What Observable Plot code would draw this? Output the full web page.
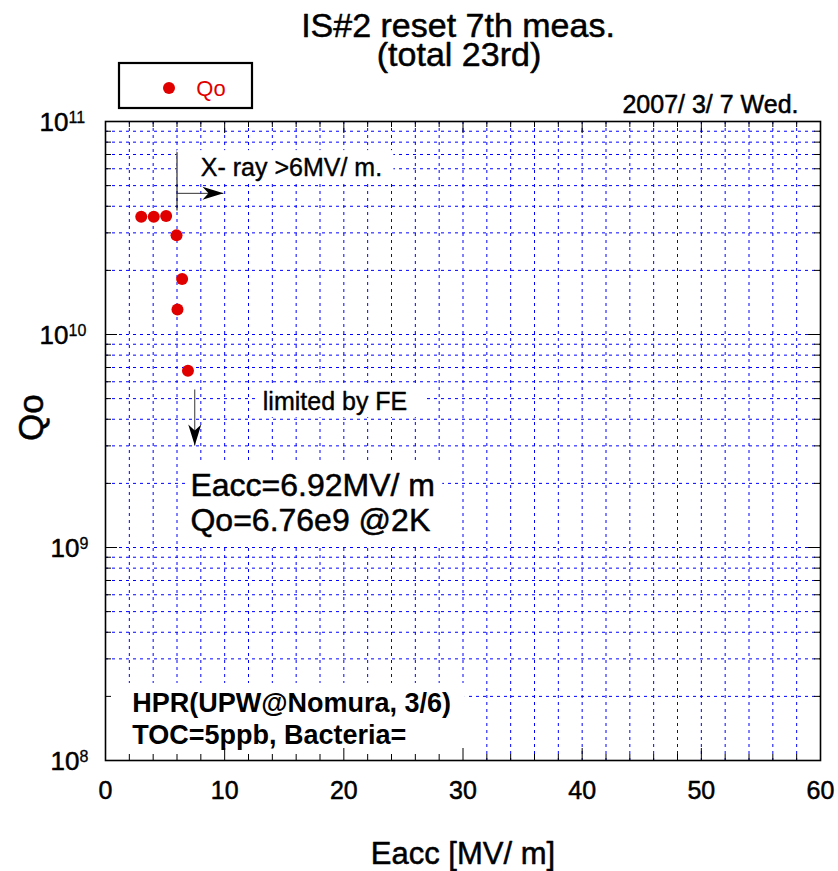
<!DOCTYPE html>
<html>
<head>
<meta charset="utf-8">
<script src="https://cdn.jsdelivr.net/npm/d3@7"></script>
<script src="https://cdn.jsdelivr.net/npm/@observablehq/plot@0.6"></script>
<style>
  html, body { margin: 0; padding: 0; background: white; }
  #chart { width: 838px; height: 871px; }
</style>
</head>
<body>
<div id="chart"></div>
<script>
// ---------------- data ----------------
const eacc = [3.0, 4.05, 5.09, 5.96, 6.43, 6.04, 6.92];          // MV/m
const qo   = [3.57e10, 3.57e10, 3.6e10, 2.92e10, 1.82e10, 1.31e10, 6.76e9];

const xTickValues = [0, 10, 20, 30, 40, 50, 60];
const xTickLabels = ["0", "10", "20", "30", "40", "50", "60"];
const yDecades = [1e8, 1e9, 1e10, 1e11];
const yExponents = ["8", "9", "10", "11"];

const titleLines = ["IS#2 reset 7th meas.", "(total 23rd)"];
const dateLabel = "2007/ 3/ 7 Wed.";
const xLabel = "Eacc [MV/ m]";
const yLabel = "Qo";
const seriesName = "Qo";

// annotations (data coordinates)
const xrayText = { x: 8.0, y: 5.57e10, text: "X- ray >6MV/ m." };
const feText = { x: 13.2, y: 4.4e9, text: "limited by FE" };
const resultLines = [
  { x: 7.13, y: 1.75e9, text: "Eacc=6.92MV/ m" },
  { x: 7.13, y: 1.2e9, text: "Qo=6.76e9 @2K" }
];
const hprLines = [
  { x: 2.24, y: 1.69e8, text: "HPR(UPW@Nomura, 3/6)" },
  { x: 2.24, y: 1.2e8, text: "TOC=5ppb, Bacteria=" }
];
const textBoxes = [
  { x1: 6.0, x2: 24.2, y1: 5.18e10, y2: 7.3e10 },
  { x1: 12.84, x2: 26.8, y1: 4.07e9, y2: 5.77e9 },
  { x1: 6.88, x2: 28.3, y1: 1.02e9, y2: 2.48e9 },
  { x1: 0, x2: 30.2, y1: 1e8, y2: 2.3e8 }
];
const xrayLine = { x1: 6.0, y1: 7.18e10, x2: 6.0, y2: 3.82e10 };
const xrayArrow = { x1: 6.0, y1: 4.6e10, x2: 9.9, y2: 4.6e10 };
const feArrow = { x1: 7.49, y1: 5.52e9, x2: 7.49, y2: 3.01e9 };

// ---------------- derived helpers ----------------
const points = eacc.map((x, i) => ({ x, y: qo[i] }));
const xGrid = d3.range(2, 60, 2);
const xMinorTicks = d3.range(2, 60, 2).filter(v => v % 10 !== 0);
const xMajorTicks = [10, 20, 30, 40, 50];
const yMinor = [];
for (const dec of [1e8, 1e9, 1e10]) for (let m = 2; m <= 9; m++) yMinor.push(m * dec);
const yGrid = yMinor.concat([1e9, 1e10]);
const yMajorTicks = [1e9, 1e10];
const yLab = yDecades.map((v, i) => ({ y: v, e: yExponents[i] }));

const W = 838, H = 871;
const mL = 105, mR = 18, mT = 121, mB = 111;
const plotW = W - mL - mR, plotH = H - mT - mB;

const FONT = "'Liberation Sans', Arial, Helvetica, sans-serif";
const RED = "#e00000";
const BLUE = "#0000ff";
const thick = { fill: "black", stroke: "black", strokeWidth: 0.5 };

const arrowHead = {
  draw(ctx) {
    ctx.moveTo(0, 0);
    ctx.lineTo(-21, -6.5);
    ctx.lineTo(-15, 0);
    ctx.lineTo(-21, 6.5);
    ctx.closePath();
  }
};

const legendMark = () => {
  const g = d3.create("svg:g");
  g.append("rect").attr("x", 119).attr("y", 63).attr("width", 133).attr("height", 45)
    .attr("fill", "white").attr("stroke", "black").attr("stroke-width", 2.2);
  g.append("circle").attr("cx", 169).attr("cy", 88).attr("r", 6).attr("fill", RED);
  g.append("text").attr("x", 211).attr("y", 96).attr("fill", RED)
    .attr("font-size", 22).attr("font-family", FONT).text(seriesName);
  return g.node();
};

const chart = Plot.plot({
  width: W,
  height: H,
  marginLeft: mL,
  marginRight: mR,
  marginTop: mT,
  marginBottom: mB,
  style: { fontFamily: FONT, background: "white", overflow: "visible" },
  x: { domain: [0, 60], axis: null },
  y: { type: "log", domain: [1e8, 1e11], axis: null },
  marks: [
    // grid
    Plot.ruleX(xGrid, { stroke: BLUE, strokeWidth: 1, strokeDasharray: "3,4" }),
    Plot.ruleY(yGrid, { stroke: BLUE, strokeWidth: 1, strokeDasharray: "3,4" }),
    // white text backgrounds
    Plot.rect(textBoxes, { x1: "x1", x2: "x2", y1: "y1", y2: "y2", fill: "white" }),
    // inward ticks: bottom / top
    Plot.ruleX(xMinorTicks, { stroke: "black", strokeWidth: 1, insetTop: plotH - 6 }),
    Plot.ruleX(xMajorTicks, { stroke: "black", strokeWidth: 1, insetTop: plotH - 12 }),
    Plot.ruleX(xMinorTicks, { stroke: "black", strokeWidth: 1, insetBottom: plotH - 6 }),
    Plot.ruleX(xMajorTicks, { stroke: "black", strokeWidth: 1, insetBottom: plotH - 12 }),
    // inward ticks: left / right
    Plot.ruleY(yMinor, { stroke: "black", strokeWidth: 1, insetRight: plotW - 6 }),
    Plot.ruleY(yMajorTicks, { stroke: "black", strokeWidth: 1, insetRight: plotW - 12 }),
    Plot.ruleY(yMinor, { stroke: "black", strokeWidth: 1, insetLeft: plotW - 6 }),
    Plot.ruleY(yMajorTicks, { stroke: "black", strokeWidth: 1, insetLeft: plotW - 12 }),
    Plot.frame({ stroke: "black", strokeWidth: 1.6 }),
    // x tick labels
    Plot.text(xTickValues, {
      x: d => d, text: (d, i) => xTickLabels[i], frameAnchor: "bottom",
      dy: 38, lineAnchor: "bottom", fontSize: 25, ...thick
    }),
    // y tick labels: 10^n
    Plot.text(yLab.filter(d => d.e.length === 2), {
      y: "y", text: () => "10", frameAnchor: "left", textAnchor: "end",
      dx: -37, dy: 9, lineAnchor: "bottom", fontSize: 26, ...thick
    }),
    Plot.text(yLab.filter(d => d.e.length === 2), {
      y: "y", text: "e", frameAnchor: "left", textAnchor: "start",
      dx: -37, dy: 1.5, lineAnchor: "bottom", fontSize: 16, ...thick, strokeWidth: 0.3
    }),
    Plot.text(yLab.filter(d => d.e.length === 1), {
      y: "y", text: () => "10", frameAnchor: "left", textAnchor: "end",
      dx: -26, dy: 9, lineAnchor: "bottom", fontSize: 26, ...thick
    }),
    Plot.text(yLab.filter(d => d.e.length === 1), {
      y: "y", text: "e", frameAnchor: "left", textAnchor: "start",
      dx: -26, dy: 1.5, lineAnchor: "bottom", fontSize: 16, ...thick, strokeWidth: 0.3
    }),
    // axis titles
    Plot.text([xLabel], {
      frameAnchor: "bottom", dy: 103, lineAnchor: "bottom", fontSize: 31, ...thick
    }),
    Plot.text([yLabel], {
      frameAnchor: "left", dx: -63, rotate: -90, lineAnchor: "bottom",
      fontSize: 35, ...thick
    }),
    // title & date
    Plot.text([titleLines[0]], {
      frameAnchor: "top", dx: -5, dy: 36 - mT, lineAnchor: "bottom", fontSize: 34, ...thick
    }),
    Plot.text([titleLines[1]], {
      frameAnchor: "top", dx: -4, dy: 65 - mT, lineAnchor: "bottom", fontSize: 34, ...thick
    }),
    Plot.text([dateLabel], {
      frameAnchor: "top-right", textAnchor: "end", dx: -22, dy: -9,
      lineAnchor: "bottom", fontSize: 25, ...thick
    }),
    // annotations
    Plot.link([xrayLine], { x1: "x1", y1: "y1", x2: "x2", y2: "y2", stroke: "black", strokeWidth: 1 }),
    Plot.link([xrayArrow], { x1: "x1", y1: "y1", x2: "x2", y2: "y2", stroke: "#333", strokeWidth: 1 }),
    Plot.dot([xrayArrow], { x: "x2", y: "y2", symbol: arrowHead, fill: "black", stroke: "none", rotate: 0 }),
    Plot.link([feArrow], { x1: "x1", y1: "y1", x2: "x2", y2: "y2", stroke: "#333", strokeWidth: 1 }),
    Plot.dot([feArrow], { x: "x2", y: "y2", symbol: arrowHead, fill: "black", stroke: "none", rotate: 90 }),
    Plot.text([xrayText], { x: "x", y: "y", text: "text", textAnchor: "start", lineAnchor: "bottom", fontSize: 25, ...thick, strokeWidth: 0.4 }),
    Plot.text([feText], { x: "x", y: "y", text: "text", textAnchor: "start", lineAnchor: "bottom", fontSize: 25, ...thick, strokeWidth: 0.4 }),
    Plot.text(resultLines, { x: "x", y: "y", text: "text", textAnchor: "start", lineAnchor: "bottom", fontSize: 32, ...thick }),
    Plot.text(hprLines, { x: "x", y: "y", text: "text", textAnchor: "start", lineAnchor: "bottom", fontSize: 27, fontWeight: "bold", fill: "black" }),
    // data
    Plot.dot(points, { x: "x", y: "y", r: 6, fill: RED, stroke: "none" }),
    // legend
    legendMark
  ]
});

document.getElementById("chart").appendChild(chart);
</script>
</body>
</html>
